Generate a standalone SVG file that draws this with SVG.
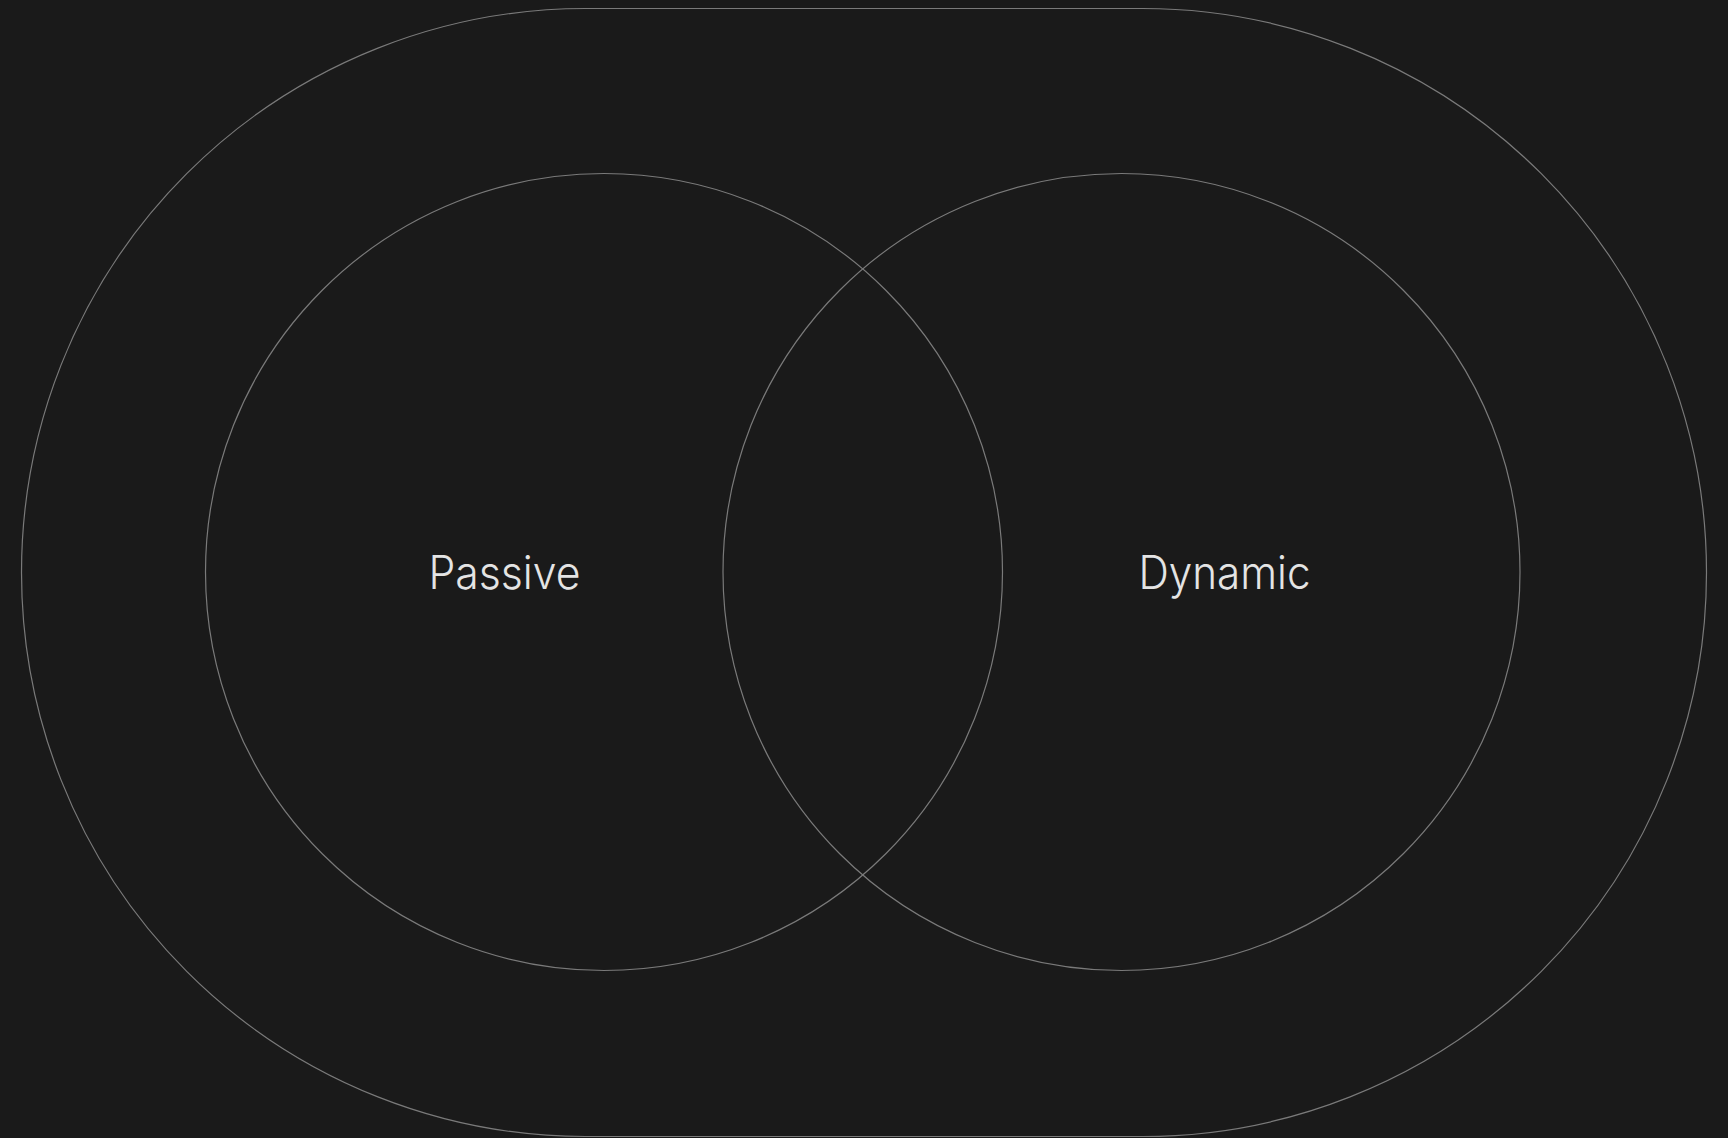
<svg xmlns="http://www.w3.org/2000/svg" width="1728" height="1138" viewBox="0 0 1728 1138">
<style>
.shape{fill:none;stroke:#7a7a7a;stroke-width:1.2}
.label{font-family:"Inter","Liberation Sans",sans-serif;font-weight:300;font-size:46px;fill:#e4e4e4;text-anchor:middle}
</style>
<rect width="1728" height="1138" fill="#1a1a1a"/>
<g id="outer"><rect class="shape" x="21.5" y="8.5" width="1685" height="1128" rx="564" ry="564"/></g>
<g id="passive">
<circle class="shape" cx="604" cy="572" r="398.5"/>
<text class="label" x="504.5" y="589" textLength="152" lengthAdjust="spacingAndGlyphs">Passive</text>
</g>
<g id="dynamic">
<circle class="shape" cx="1121.5" cy="572" r="398.5"/>
<text class="label" x="1224.5" y="589" textLength="172" lengthAdjust="spacingAndGlyphs">Dynamic</text>
</g>
<g id="connectors"/>
</svg>
